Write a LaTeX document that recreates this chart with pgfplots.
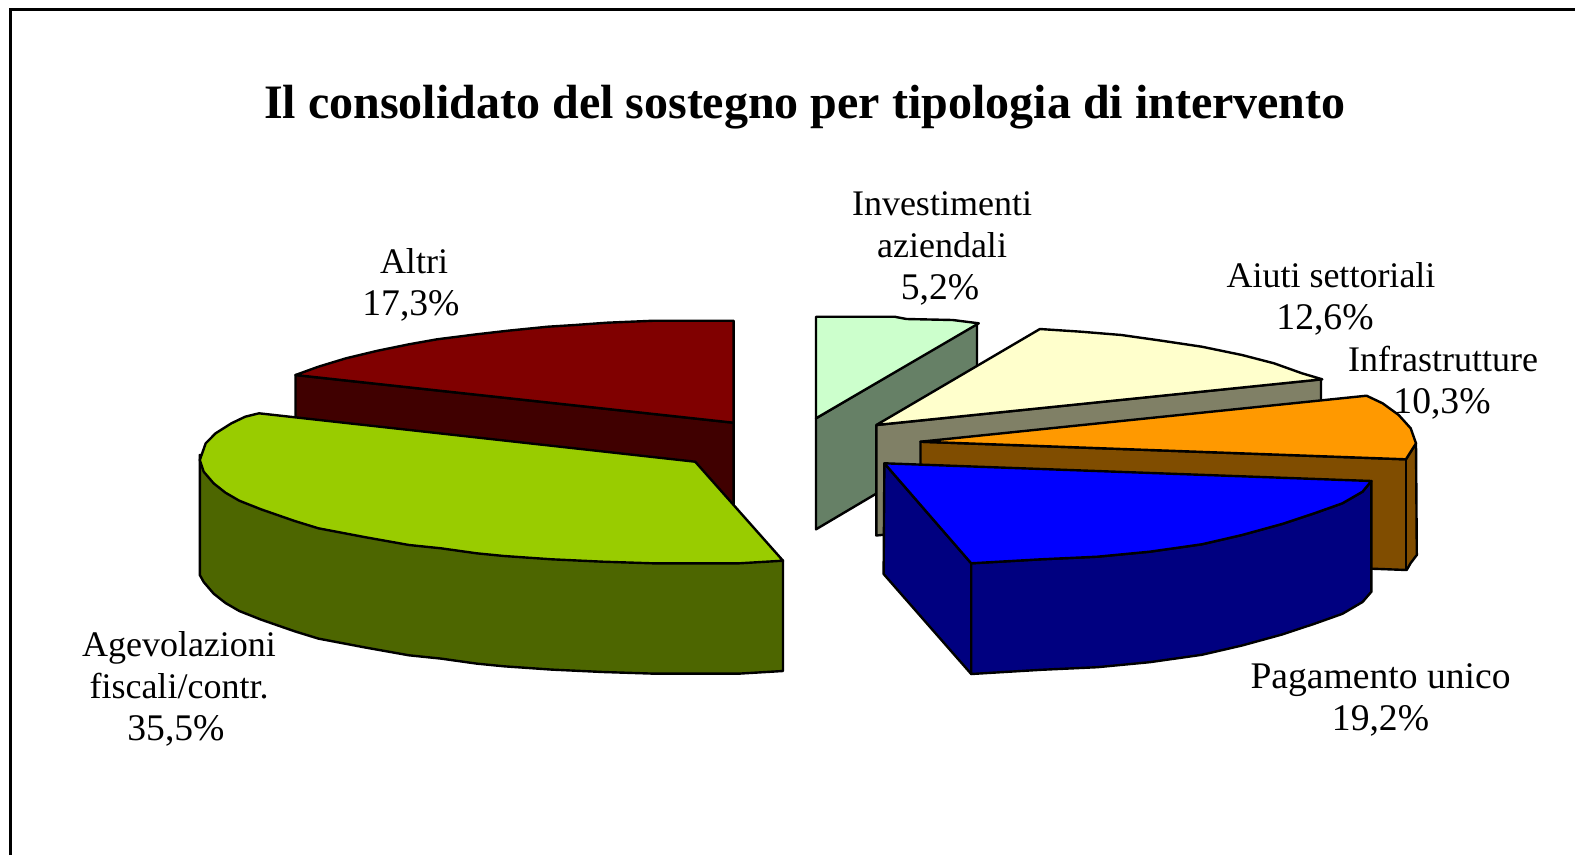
\documentclass[border=0pt]{standalone}
\usepackage{pgfplots}
\pgfplotsset{compat=1.18}
\usepackage{fontspec}
\setmainfont{Liberation Serif}
\definecolor{redtop}{RGB}{128,0,0}
\definecolor{redside}{RGB}{64,0,0}
\definecolor{greentop}{RGB}{153,204,0}
\definecolor{greenside}{RGB}{77,102,0}
\definecolor{mint}{RGB}{204,255,204}
\definecolor{mintside}{RGB}{102,128,102}
\definecolor{cream}{RGB}{255,255,204}
\definecolor{creamside}{RGB}{128,128,102}
\definecolor{orangetop}{RGB}{255,153,0}
\definecolor{orangeside}{RGB}{128,77,0}
\definecolor{bluetop}{RGB}{0,0,255}
\definecolor{blueside}{RGB}{0,0,128}
\newcommand{\lab}[3]{\node[anchor=base,inner sep=0pt,font=\fontsize{36}{36}\selectfont] at (axis cs:#1,#2) {#3};}
\newcommand{\labp}[3]{\node[anchor=base,inner sep=0pt,font=\fontsize{37.6}{37.6}\selectfont] at (axis cs:#1,#2) {#3};}
\begin{document}
\begin{tikzpicture}
\begin{axis}[
  width=1575pt,height=855pt,scale only axis,
  xmin=0,xmax=1575,ymin=0,ymax=855,y dir=reverse,
  hide axis,
  every axis plot/.append style={draw=black,line width=2.4pt,line join=round}
]
% Altri
\addplot[fill=redside] coordinates {(295.5,375)(733.6,422.7)(733.6,533)(295.5,485)} --cycle;
\addplot[fill=redtop] coordinates {(733.6,422.7)(733.6,320.7)(654.5,320.7)(607,322.7)(575,325)(547.7,326.7)(508,330.7)(476.6,334.3)(437,339.3)(409,344.3)(377.7,350.7)(346,358.3)(318.4,366.7)(295.5,375)} --cycle;
% Agevolazioni
\addplot[fill=greenside] coordinates {(783,560.7)(783,671)(739.5,673.6)(652.5,673.6)(603,672)(551.7,669.6)(504,666.3)(476.6,663.6)(441,658.6)(409,655.3)(365.8,647.6)(318.4,638.6)(294.7,631.3)(261,619.6)(239.3,611)(225.5,603)(213.6,593.6)(203.7,582)(199.8,575)(199.8,455)} --cycle;
\addplot[fill=greentop] coordinates {(259,413.3)(695.2,461.7)(783,560.7)(739.5,563.3)(652.5,563.3)(603,561.7)(551.7,559.3)(504,556)(476.6,553.3)(441,548.3)(409,545)(365.8,537.3)(318.4,528.3)(294.7,521)(261,509.3)(239.3,500.7)(225.5,492.7)(213.6,483.3)(203.7,471.7)(199.8,460)(205.7,443.3)(215.6,433.3)(231.4,423.3)(245.2,416.7)} --cycle;
% Investimenti aziendali
\addplot[fill=mintside] coordinates {(816,418.3)(977,323.3)(977,434)(816,529.3)} --cycle;
\addplot[fill=mint] coordinates {(816,418.3)(816,316.7)(894.4,316.7)(906.5,319)(952.7,320)(978.8,323.3)} --cycle;
% Aiuti settoriali
\addplot[fill=creamside] coordinates {(876.3,425)(1321,379.3)(1321,490)(876.3,535.5)} --cycle;
\addplot[fill=cream] coordinates {(876.3,425)(1039.9,329)(1081,331.7)(1121.4,335)(1161.6,340.7)(1201.8,346.7)(1242,355)(1274,363.3)(1302,373.3)(1322.3,379.3)} --cycle;
% Infrastrutture
\addplot[fill=orangeside] coordinates {(920.5,441.7)(1405.9,459.3)(1410.7,451.7)(1416,443.3)(1416.8,555)(1410.7,563)(1406.7,570)(920.5,552)} --cycle;
\addplot[draw=black,line width=1.5pt] coordinates {(1405.9,459.3)(1405.9,570)};
\addplot[fill=orangetop] coordinates {(920.5,441.7)(1366.5,395.7)(1382.6,403.3)(1398.7,415)(1410.7,428.3)(1416,443.3)(1410.7,451.7)(1405.9,459.3)} --cycle;
% Pagamento unico
\addplot[fill=blueside] coordinates {(884.4,463.3)(971.2,563.3)(971.2,674)(883.6,574)} --cycle;
\addplot[fill=blueside] coordinates {(971.2,563.3)(1041,559.3)(1097.3,556.7)(1149.6,551.7)(1201.8,544.3)(1242,535)(1282,524)(1314.3,513.3)(1342.4,503.3)(1362.5,491.7)(1371.4,481)(1371.4,591.7)(1362.5,602)(1342.4,613.8)(1314.3,623.8)(1282,634.5)(1242,645.5)(1201.8,654.8)(1149.6,662.2)(1097.3,667.2)(1041,669.8)(971.2,674)} --cycle;
\addplot[fill=bluetop] coordinates {(884.4,463.3)(1371.4,481)(1362.5,491.7)(1342.4,503.3)(1314.3,513.3)(1282,524)(1242,535)(1201.8,544.3)(1149.6,551.7)(1097.3,556.7)(1041,559.3)(971.2,563.3)} --cycle;
% frame
\addplot[draw=black,line width=2.8pt,line join=miter] coordinates {(10.5,855)(10.5,9.5)(1575,9.5)};
% text
\node[anchor=base,inner sep=0pt,font=\fontsize{48}{48}\selectfont\bfseries] at (axis cs:805,118.5) {Il consolidato del sostegno per tipologia di intervento};
\lab{942}{215}{Investimenti}
\lab{942}{257}{aziendali}
\labp{940}{299}{5,2\%}
\lab{414}{273}{Altri}
\labp{411}{315}{17,3\%}
\lab{1331}{287}{Aiuti settoriali}
\labp{1325}{329}{12,6\%}
\lab{1443}{371}{Infrastrutture}
\labp{1442}{413}{10,3\%}
\labp{1380.5}{688}{Pagamento unico}
\labp{1380.5}{730}{19,2\%}
\lab{179}{656}{Agevolazioni}
\lab{179}{698}{fiscali/contr.}
\labp{176}{740}{35,5\%}
\end{axis}
\path (0,0) rectangle (1575pt,855pt);
\end{tikzpicture}
\end{document}
